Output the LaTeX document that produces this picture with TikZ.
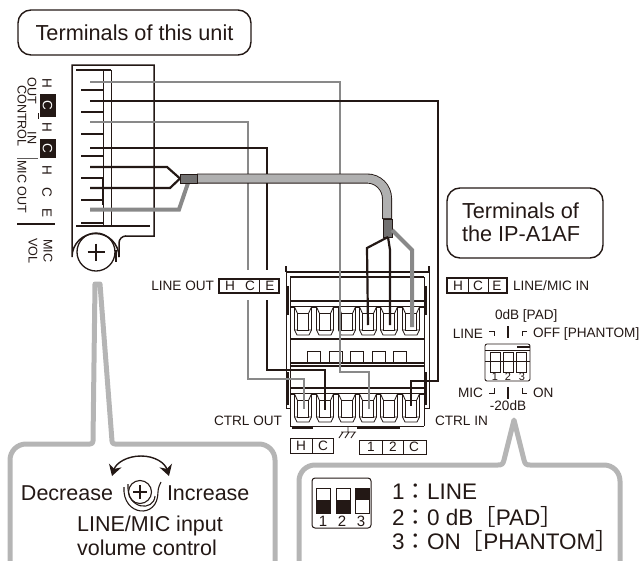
\documentclass[tikz,border=0pt]{standalone}
\usepackage{fontspec}
\setmainfont{Liberation Sans}
\newfontfamily\cjkf{Noto Sans CJK JP}
\usetikzlibrary{arrows.meta,calc}
\definecolor{ink}{HTML}{231815}
\definecolor{wgray}{HTML}{898989}
\definecolor{cablegray}{HTML}{B0B0B0}
\definecolor{tipgray}{HTML}{727171}
\definecolor{callout}{HTML}{B5B5B5}
\newcommand{\fsz}[1]{\fontsize{#1}{#1}\selectfont}
\tikzset{
  x=1pt,y=-1pt,
  every node/.style={inner sep=0pt,outer sep=0pt,text=ink},
  titlebox/.style={draw=ink,line width=1.4pt,rounded corners=13pt},
  titletext/.style={font=\fsz{21.7}},
  small/.style={font=\fsz{13.6}},
  vert/.style={font=\fsz{13.5},rotate=-90},
  vert2/.style={font=\fsz{12.6},rotate=-90},
  blk/.style={draw=ink,line width=2.2pt,line join=miter},
  gry/.style={draw=wgray,line width=2.4pt},
  thin line/.style={draw=ink,line width=.85pt},
  med/.style={draw=ink,line width=1.3pt},
  body/.style={draw=ink,line width=1.5pt},
  bubble/.style={draw=callout,line width=5pt,line join=round},
  big/.style={font=\fsz{21.5}},
  bigger/.style={font=\fsz{22.5}},
  pics/term/.style={code={
    \draw[thin line,fill=white] (-8.5,0)--(-8.5,23)--(-6,28)--(6,28)--(8.5,23)--(8.5,0);
    \draw[thin line] (-5.7,6)rectangle(5.7,23);
    \draw[thin line] (-8.5,0)--(-5.7,6) (8.5,0)--(5.7,6) (-8.5,23)--(-5.7,23) (8.5,23)--(5.7,23);
  }},
}
\begin{document}
\begin{tikzpicture}
\useasboundingbox (0,0) rectangle (643,560);

% title boxes
\node[titlebox,titletext,minimum width=233pt,minimum height=45pt] (unittitle) at (134.5,32.5) {Terminals of this unit};
\draw[titlebox] (447,188) rectangle (603,258);
\node[titletext,anchor=west] (iptitle1) at (462,211) {Terminals of};
\node[titletext,anchor=west] (iptitle2) at (462,234) {the IP-A1AF};

% unit body
\draw[body] (125,236) -- (154,236) -- (154,65) -- (72,65) -- (72,257)
   arc[start angle=180,end angle=0,radius=23.5,y radius=-23.5];
\draw[body] (119,257) -- (119,243) arc[start angle=180,end angle=90,radius=7,y radius=-7]; 
\node[draw=ink,line width=1.3pt,circle,minimum size=38pt] (screw) at (96,252) {};
\draw[med] (96,243.5)--(96,260.5) (87.5,252)--(104.5,252);
\draw[ink,line width=1.4pt] (116,250)--(116,262);
\draw[thin line] (103,70)--(103,226) (111,70)--(111,226);
\draw[med] (76,70)--(111,70) (76,226)--(150,226);
\foreach \yy in {90,112,134,156,178,200,223}{\draw[med] (81,\yy)--(103,\yy);}
\draw[ink,line width=1.6pt] (103,178)--(103,205);

% label strip
\node[vert] (lh1) at (47,83) {H};
\node[fill=ink,minimum width=16pt,minimum height=23pt] (lc1) at (47.5,105) {};
\node[vert,text=white] (lc1t) at (47.5,105) {C};
\node[vert] (lh2) at (47,127) {H};
\node[fill=ink,minimum width=16pt,minimum height=19pt] (lc2) at (47.5,148) {};
\node[vert,text=white] (lc2t) at (47.5,148) {C};
\node[vert] (lh3) at (47,170) {H};
\node[vert] (lc3) at (47,192) {C};
\node[vert] (le3) at (47,213) {E};
\node[vert2] (lout) at (32,91) {OUT};
\node[vert2] (lin) at (32,138) {IN};
\node[vert2] (lctl) at (22,116) {CONTROL};
\node[vert2] (lmo) at (22,187) {MIC OUT};
\node[vert2] (lmic) at (48,251) {MIC};
\node[vert2] (lvol) at (33,251) {VOL};
\draw[med,line width=.9pt] (38,113)--(38,119);
\draw[med,draw=wgray!60!ink,line width=1pt] (17,158)--(38,158);
\draw[ink,line width=1.7pt] (17,224)--(55,224);

% terminal block
\draw[med] (286,266)--(286,272) (429,266)--(429,272) (286,272)--(429,272);
\draw[med] (290,277)--(424,277);
\draw[thin line] (286,272)--(286,408)--(290,408) (429,272)--(429,408)--(424,408) (290,277)--(290,426) (424,277)--(424,426);
\draw[med] (290,301)--(424,301) (290,307)--(424,307) (290,339)--(424,339);
\draw[med] (290,363)--(424,363) (290,366)--(424,366);
\draw[med] (290,388)--(424,388) (290,394)--(424,394);
\draw[ink,line width=1.2pt] (288,286)--(288,315) (426,286)--(426,315) (288,372)--(288,405) (426,372)--(426,405);
\foreach \xx in {314,336,357,379,400}{\draw[thin line] (\xx-6.5,351.5) rectangle (\xx+6.5,363);}
\foreach \xx in {303,325,347,368,389,411}{
  \pic at (\xx,307) {term};
  \pic at (\xx,394) {term};
}
\draw[thin line] (290,426)--(424,426);
\draw[ink,line width=1.8pt] (292,428)--(313,428) (357,428)--(400,428);
\draw[thin line] (348,426)--(348,432) (341,432)--(356,432) (343,432)--(339,438) (349,432)--(345,438) (355,432)--(351,438);

% coordinates for wire ends
\coordinate (g1s) at (90,82);   \coordinate (g1e) at (369,409);
\coordinate (b1s) at (90,101);  \coordinate (b1e) at (411,406);
\coordinate (g2s) at (90,122);  \coordinate (g2e) at (304,409);
\coordinate (b2s) at (90,148);  \coordinate (b2e) at (325,410);
\coordinate (cabL) at (180,178.5);
\coordinate (cabR) at (197,178.5);
\coordinate (cabB) at (387,219);
\coordinate (cabT) at (388,237);
\coordinate (ta) at (368,325);
\coordinate (tb) at (390,325);
\coordinate (tc) at (412,327);

% long wires
\draw[gry] (g1s) -- (340,82) -- (340,372) -- (369,372) -- (g1e);
\draw[blk] (b1s) -- (438,101) -- (438,381) -- (411,381) -- (b1e);
\draw[gry] (g2s) -- (248,122) -- (248,270);
\draw[gry] (248,300) -- (248,379) -- (304,379) -- (g2e);
\draw[blk] (b2s) -- (267,148) -- (267,270);
\draw[blk] (267,300) -- (267,370) -- (325,370) -- (b2e);

% cable
\draw[blk] (90,167) -- (167,167) -- (cabL);
\draw[blk] (90,188) -- (170,188) -- (cabL);
\draw[gry,line width=4pt] (90,209.5) -- (179,209.5) -- (188,183);
\draw[ink,line width=10pt,rounded corners=20pt] (cabR) -- (387,178.5) -- (cabB);
\draw[cablegray,line width=8.2pt,rounded corners=20pt] (198,178.5) -- (387,178.5) -- (387,218);
\draw[ink,fill=tipgray,line width=.8pt] (180,174.5) rectangle (197,183.5);
\draw[ink,fill=tipgray,line width=.8pt] (383.5,219) rectangle (392,237);

\draw[blk] (cabT) -- (367,248) -- (ta);
\draw[blk] (cabT) -- (390,250) -- (tb);
\draw[gry,line width=4pt] (392,230) -- (412,250) -- (tc);

% LINE OUT label
\node[small,anchor=east] (lineout) at (214,286) {LINE OUT};
\draw[draw=ink,line width=1.3pt] (219,279) rectangle (279,293);
\draw[thin line] (259,279)--(259,293);
\node[small] (loh) at (230,286) {H};
\node[small] (loc) at (250,286) {C};
\node[small] (loe) at (270,286) {E};

% LINE/MIC IN label
\draw[draw=ink,line width=1.1pt] (447,278) rectangle (507,293);
\draw[thin line] (468,278)--(468,293) (488,278)--(488,293);
\node[small] (ih) at (458,286) {H};
\node[small] (ic) at (478,286) {C};
\node[small] (ie) at (497,286) {E};
\node[small,anchor=west] (iname) at (513,286) {LINE/MIC IN};

% DIP small
\node[small,anchor=west] (pad) at (495,316) {0dB [PAD]};
\node[small,anchor=east] (line) at (483,334) {LINE};
\node[small,anchor=west] (off) at (533,334) {OFF [PHANTOM]};
\node[small,anchor=east] (mic) at (483,393) {MIC};
\node[small,anchor=west] (on) at (533,393) {ON};
\node[small] (m20) at (508,406) {-20dB};
\draw[ink,line width=1.6pt] (508,326)--(508,338) (508,387)--(508,399);
\draw[thin line] (489,331)--(494,331)--(494,336);
\draw[thin line] (527,331)--(522,331)--(522,336);
\draw[thin line] (489,393)--(494,393)--(494,388);
\draw[thin line] (527,393)--(522,393)--(522,388);
\draw[thin line,rounded corners=2pt] (485,344) rectangle (530,381);
\draw[thin line] (485,350)--(530,350);
\draw[ink,line width=1.2pt] (517,347)--(530,347);
\foreach \xx in {495,508,521}{
  \draw[thin line] (\xx-5,352) rectangle (\xx+5,372);
}
\draw[thin line] (485,361)--(530,361);
\node[font=\fsz{11}] (s1) at (495,377) {1};
\node[font=\fsz{11}] (s2) at (508,377) {2};
\node[font=\fsz{11}] (s3) at (522,377) {3};

% labels below block
\node[small,anchor=east] (ctrlout) at (282,421) {CTRL OUT};
\node[small,anchor=west] (ctrlin) at (435,421) {CTRL IN};
\draw[thin line,line width=1pt] (290,438) rectangle (333,453);
\draw[thin line] (312,438)--(312,453);
\node[small] (hch) at (301,446) {H};
\node[small] (hcc) at (323,446) {C};
\draw[thin line,line width=1pt] (359,440) rectangle (426,454);
\draw[thin line] (382,440)--(382,454) (403,440)--(403,454);
\node[small] (c1) at (371,447) {1};
\node[small] (c2) at (393,447) {2};
\node[small] (c3) at (414,447) {C};

% left callout
\draw[bubble] (10,562) -- (10,460) arc[start angle=180,end angle=90,radius=16,y radius=-16]
  -- (90,444) .. controls (92,444) and (93,443) .. (93,441) -- (95,284) -- (100,284)
  -- (112,441) .. controls (112,443) and (113,444) .. (115,444)
  -- (259,444) arc[start angle=90,end angle=0,radius=16,y radius=-16] -- (275,562);
\node[big,anchor=east] (dec) at (113,493) {Decrease};
\node[big,anchor=west] (inc) at (167,493) {Increase};
\node[big] (vc1) at (150,526) {LINE/MIC input};
\node[big] (vc2) at (147,548) {volume control};
\node[draw=ink,line width=1.1pt,circle,minimum size=23pt] (knob) at (140,492) {};
\draw[med] (140,485)--(140,499) (133,492)--(147,492);
\draw[thin line,line width=1.1pt] (124,487) .. controls (122,516) and (158,520) .. (158,492) .. controls (158,488) and (160,484) .. (161,482);
\draw[thin line,line width=1.1pt] (128,484) .. controls (126,510) and (154,512) .. (155,496);
\draw[med,-{Stealth[length=11pt,width=13pt]},line width=1.4pt] (141,456) .. controls (127,456) and (116,463) .. (112,476);
\draw[med,-{Stealth[length=11pt,width=13pt]},line width=1.4pt] (141,456) .. controls (155,456) and (165,463) .. (169,476);

% right callout
\draw[bubble] (299,562) -- (299,481) arc[start angle=180,end angle=90,radius=16,y radius=-16]
  -- (498,465) .. controls (502,465) and (503,464) .. (504,460) -- (514,420) -- (524,460)
  .. controls (525,464) and (526,465) .. (530,465)
  -- (604,465) arc[start angle=90,end angle=0,radius=16,y radius=-16] -- (620,562);
\draw[thin line,line width=1pt,rounded corners=3pt] (312,478) rectangle (371,528);
\foreach \xx in {316,336}{
  \draw[thin line,line width=1pt] (\xx,488) rectangle (\xx+14,513);
  \fill[ink] (\xx,500) rectangle (\xx+14,513);
}
\draw[thin line,line width=1pt] (355,488) rectangle (369,513);
\fill[ink] (355,488) rectangle (369,500);
\node[font=\fsz{15}] (b1) at (323,521) {1};
\node[font=\fsz{15}] (b2) at (342,521) {2};
\node[font=\fsz{15}] (b3) at (361,521) {3};
\node[bigger,anchor=west] (d1) at (392,492) {1{\cjkf ：}LINE};
\node[bigger,anchor=west] (d2) at (392,517) {2{\cjkf ：}0 dB{\cjkf ［}PAD{\cjkf ］}};
\node[bigger,anchor=west] (d3) at (392,541) {3{\cjkf ：}ON{\cjkf ［}PHANTOM{\cjkf ］}};
\end{tikzpicture}
\end{document}
